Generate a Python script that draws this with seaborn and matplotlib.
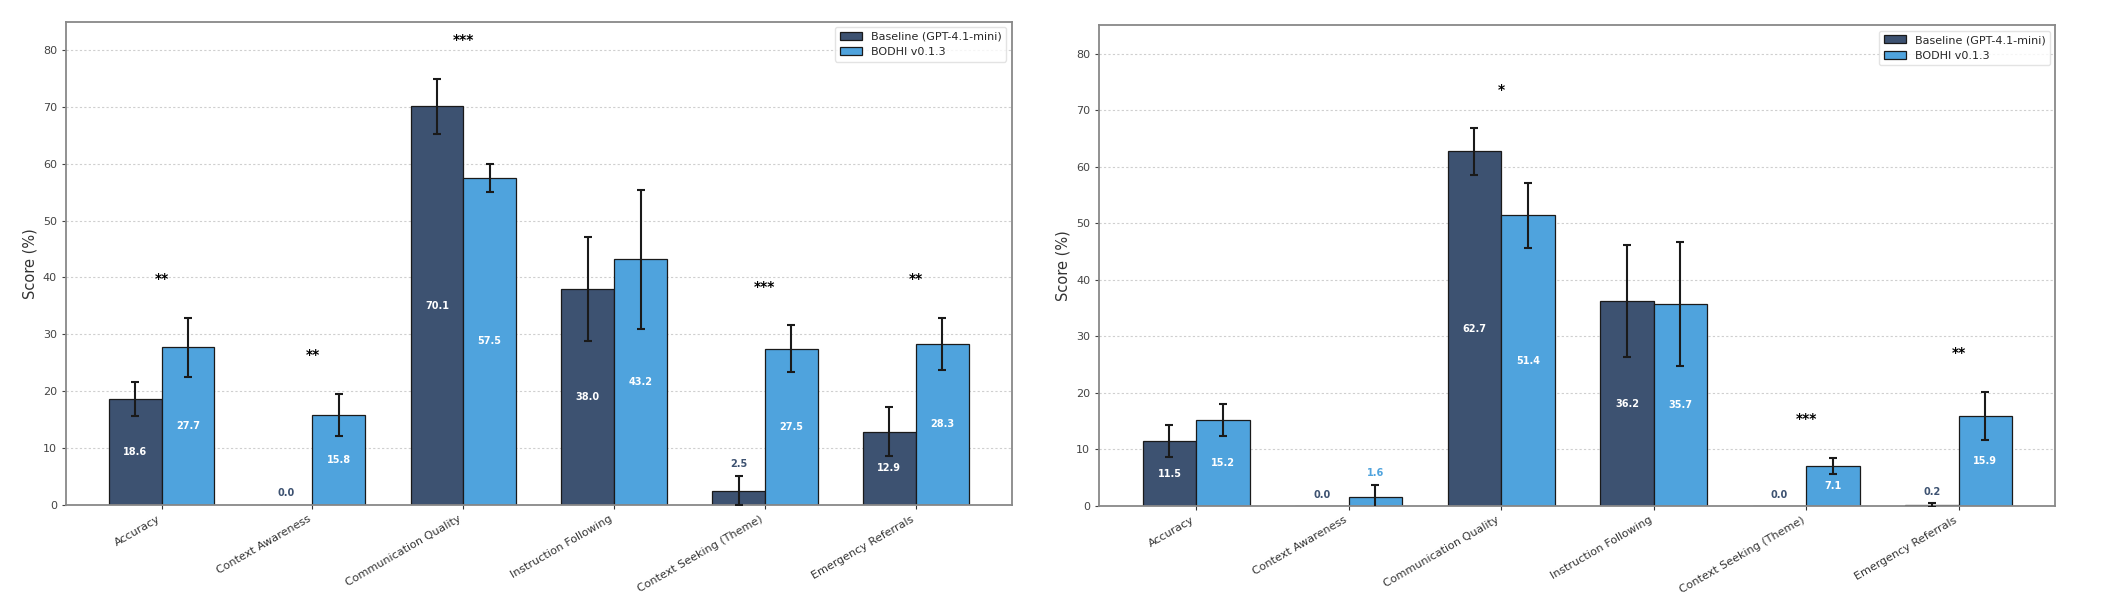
import numpy as np
import pandas as pd
import seaborn as sns
import matplotlib
matplotlib.use("Agg")
import matplotlib.pyplot as plt

categories = ["Accuracy", "Context Awareness", "Communication Quality",
              "Instruction Following", "Context Seeking (Theme)", "Emergency Referrals"]
models = ["Baseline (GPT-4.1-mini)", "BODHI v0.1.3"]

# left panel
base_a = [18.6, 0.0, 70.1, 38.0, 2.5, 12.9]
base_a_err = [3.0, 0.0, 4.8, 9.2, 2.6, 4.3]
bodhi_a = [27.7, 15.8, 57.5, 43.2, 27.5, 28.3]
bodhi_a_err = [5.2, 3.7, 2.4, 12.2, 4.1, 4.6]
stars_a = ["**", "**", "***", "", "***", "**"]

# right panel
base_b = [11.5, 0.0, 62.7, 36.2, 0.0, 0.2]
base_b_err = [2.9, 0.0, 4.1, 9.9, 0.0, 0.3]
bodhi_b = [15.2, 1.6, 51.4, 35.7, 7.1, 15.9]
bodhi_b_err = [2.9, 2.2, 5.7, 10.9, 1.4, 4.3]
stars_b = ["", "", "*", "", "***", "**"]

colors = ["#3D5271", "#4FA3DD"]

sns.set_style("white")
plt.rcParams["font.family"] = ["DejaVu Sans"]

fig = plt.figure(figsize=(21.06, 6.01), dpi=100)
ax1 = fig.add_axes([0.0313, 0.160, 0.449, 0.804])
ax2 = fig.add_axes([0.522, 0.158, 0.454, 0.800])


def draw(ax, base, base_err, bodhi, bodhi_err, stars):
    df = pd.DataFrame({
        "cat": categories * 2,
        "model": [models[0]] * 6 + [models[1]] * 6,
        "score": base + bodhi,
    })
    sns.barplot(data=df, x="cat", y="score", hue="model", order=categories,
                hue_order=models, palette=colors, width=0.7, edgecolor="#1a1a1a",
                linewidth=0.9, saturation=1, ax=ax, zorder=2)
    errs = [base_err, bodhi_err]
    vals = [base, bodhi]
    tops = np.zeros(6)
    bars = list(ax.containers)
    for k, cont in enumerate(bars):
        xs = np.array([p.get_x() + p.get_width() / 2 for p in cont.patches])
        v = np.array(vals[k])
        e = np.array(errs[k], dtype=float)
        mask = e > 0
        ax.errorbar(xs[mask], v[mask], yerr=e[mask], fmt="none", ecolor="#1a1a1a",
                    elinewidth=1.5, capsize=3, capthick=1.5, zorder=3)
        tops = np.maximum(tops, v + e)
        for x, val, er in zip(xs, v, e):
            if val >= 5:
                ax.text(x, val / 2, f"{val:.1f}", ha="center", va="center",
                        color="white", fontsize=7, fontweight="bold", zorder=4)
            else:
                ax.text(x, val + er + 2, f"{val:.1f}", ha="center", va="center",
                        color=colors[k], fontsize=7, fontweight="bold", zorder=4)
    for i, s in enumerate(stars):
        if s:
            ax.text(i, tops[i] + 6.8, s, ha="center", va="center",
                    fontsize=10, fontweight="bold", color="black")
    ax.set_ylim(0, 85)
    ax.set_xlim(-0.635, 5.635)
    ax.set_yticks(range(0, 81, 10))
    ax.set_xlabel("")
    ax.set_ylabel("Score (%)", fontsize=10.5, color="#333333")
    ax.tick_params(axis="y", left=True, length=3, labelsize=8, colors="#444444")
    ax.tick_params(axis="x", bottom=True, length=3, labelsize=8, colors="#333333")
    ax.set_xticks(range(6))
    ax.set_xticklabels(categories, rotation=30, ha="right")
    ax.yaxis.grid(True, linestyle=(0, (2, 2)), color="#bbbbbb", linewidth=0.8, alpha=0.7)
    ax.set_axisbelow(True)
    for sp in ax.spines.values():
        sp.set_color("#888888")
        sp.set_linewidth(1.3)
    ax.legend(loc="upper right", fontsize=8, frameon=True, edgecolor="#dddddd",
              fancybox=True, title=None)


draw(ax1, base_a, base_a_err, bodhi_a, bodhi_a_err, stars_a)
draw(ax2, base_b, base_b_err, bodhi_b, bodhi_b_err, stars_b)

fig.savefig("out.png", dpi=100)
